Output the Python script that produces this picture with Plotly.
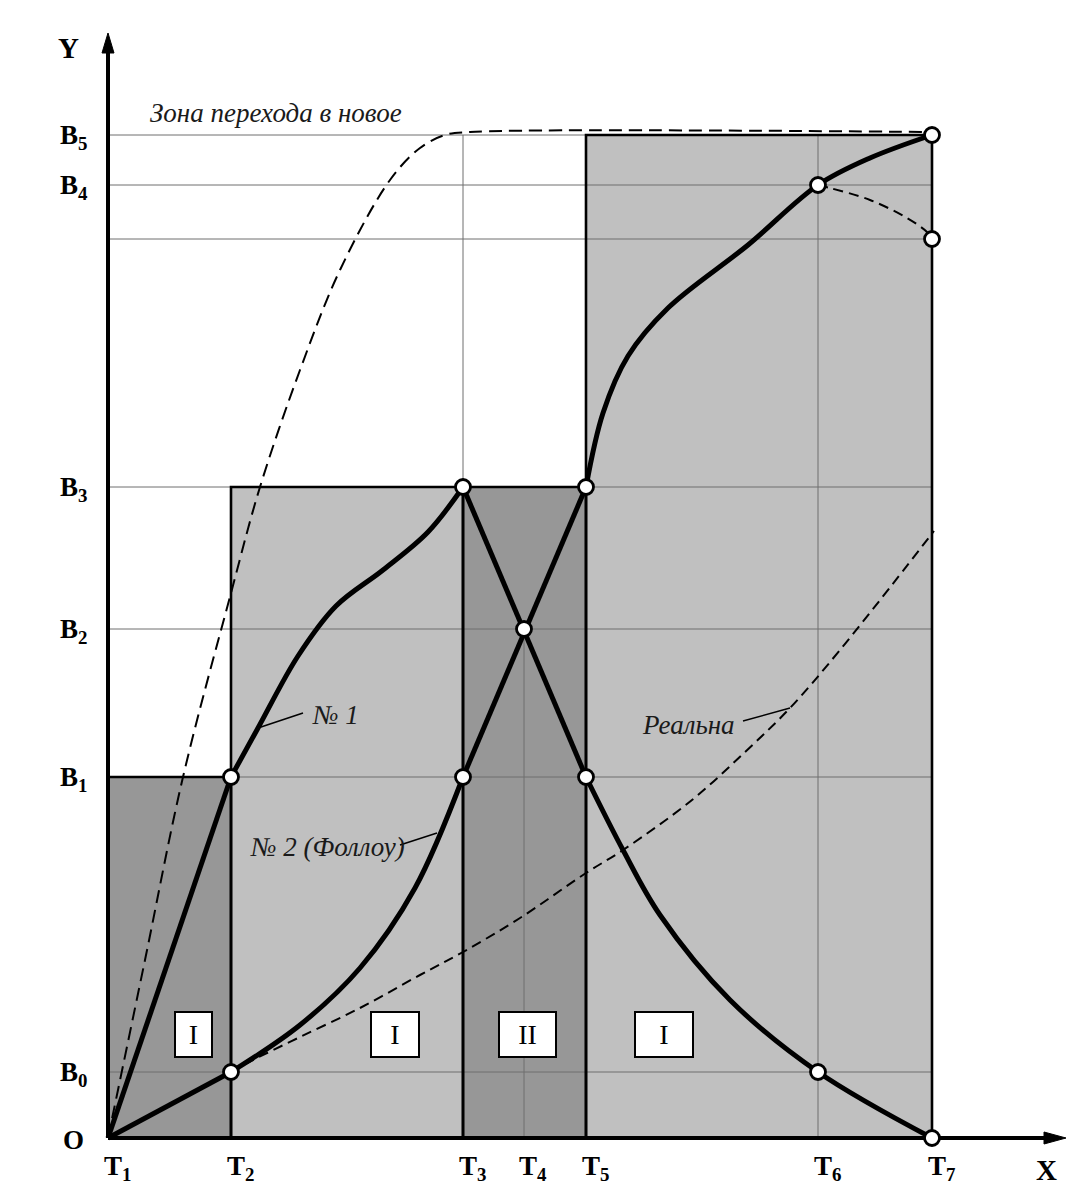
import plotly.graph_objects as go

# tick positions along the axes (chart units)
t_labels = ['T<sub>1</sub>', 'T<sub>2</sub>', 'T<sub>3</sub>', 'T<sub>4</sub>',
            'T<sub>5</sub>', 'T<sub>6</sub>', 'T<sub>7</sub>']
t_pos = [0, 123, 355, 416, 478, 710, 824]
b_labels = ['B<sub>0</sub>', 'B<sub>1</sub>', 'B<sub>2</sub>', 'B<sub>3</sub>',
            'B<sub>4</sub>', 'B<sub>5</sub>']
b_pos = [66, 361, 509, 651, 953, 1003]
b_extra = 899  # unlabeled level where the falling dashed branch ends

T1, T2, T3, T4, T5, T6, T7 = t_pos
B0, B1, B2, B3, B4, B5 = b_pos

# curve No1: growth part and decline part
c1_rise_x = [123, 150, 190, 228, 275, 320, 355]
c1_rise_y = [361, 410, 482, 532, 568, 606, 651]
c1_fall_x = [478, 515, 552, 622, 710, 824]
c1_fall_y = [361, 288, 223, 138, 66, 0]

# curve No2 (Follow)
c2_low_x = [123, 192, 252, 307, 355]
c2_low_y = [66, 113, 170, 250, 361]
c2_high_x = [478, 495, 520, 560, 640, 710, 762, 824]
c2_high_y = [651, 725, 782, 830, 893, 953, 980, 1003]

# dashed: transition zone, real curve, falling branch
zone_x = [0, 37, 75, 123, 152, 192, 232, 282, 312, 337, 362, 824]
zone_y = [0, 178, 361, 545, 651, 768, 868, 958, 990, 1003, 1006, 1006]
real_x = [123, 145, 192, 252, 312, 355, 412, 478, 515, 584, 637, 682, 732, 826]
real_y = [66, 78, 101, 130, 163, 186, 220, 265, 288, 338, 386, 430, 488, 607]
drop_x = [710, 722, 762, 799, 819, 824]
drop_y = [953, 950, 938, 920, 906, 899]

# circle nodes
node_x = [T2, T2, T3, T3, T4, T5, T5, T6, T6, T7, T7, T7]
node_y = [B1, B0, B3, B1, B2, B3, B1, B4, B0, B5, b_extra, 0]

# zone boxes
zone_text = ['I', 'I', 'II', 'I']
zone_cx = [85, 287, 419, 556]
zone_w = [39, 50, 59, 60]

DARK = '#979797'
LIGHT = '#c0c0c0'
SERIF = 'Liberation Serif'

fig = go.Figure()

regions = [(T1, T2, B1, DARK), (T2, T3, B3, LIGHT), (T3, T5, B3, DARK), (T5, T7, B5, LIGHT)]
for x0, x1, top, col in regions:
    fig.add_shape(type='rect', x0=x0, x1=x1, y0=0, y1=top, fillcolor=col,
                  line=dict(width=0), layer='below')

# thin grid
gx, gy = [], []
for lv in b_pos + [b_extra]:
    gx += [0, T7, None]
    gy += [lv, lv, None]
for xv, top in [(T3, B5), (T4, B2), (T6, B5)]:
    gx += [xv, xv, None]
    gy += [0, top, None]
fig.add_trace(go.Scatter(x=gx, y=gy, mode='lines', line=dict(color='#6e6e6e', width=1)))

# region outlines
ox, oy = [], []
for x0, x1, top, _ in regions:
    ox += [x0, x0, x1, x1, None]
    oy += [0, top, top, 0, None]
fig.add_trace(go.Scatter(x=ox, y=oy, mode='lines', line=dict(color='black', width=2.6)))

# axes
fig.add_trace(go.Scatter(x=[0, 0, None, 0, 940], y=[1090, 0, None, 0, 0], mode='lines',
                         line=dict(color='black', width=4)))
fig.add_trace(go.Scatter(x=[-6, 0, 6, -6], y=[1085, 1105, 1085, 1085], mode='lines',
                         fill='toself', fillcolor='black', line=dict(color='black', width=1)))
fig.add_trace(go.Scatter(x=[936, 958, 936, 936], y=[-6, 0, 6, -6], mode='lines',
                         fill='toself', fillcolor='black', line=dict(color='black', width=1)))

fig.add_trace(go.Scatter(x=zone_x, y=zone_y, mode='lines',
                         line=dict(shape='spline', color='black', width=2, dash='13px,7px')))
fig.add_trace(go.Scatter(x=real_x, y=real_y, mode='lines',
                         line=dict(shape='spline', color='black', width=2, dash='10px,6px')))
fig.add_trace(go.Scatter(x=drop_x, y=drop_y, mode='lines',
                         line=dict(shape='spline', color='black', width=2, dash='10px,6px')))

thick = dict(color='black', width=5)
fig.add_trace(go.Scatter(x=[0, T2, None, 0, T2], y=[0, B1, None, 0, B0], mode='lines', line=thick))
fig.add_trace(go.Scatter(x=[T3, T5, None, T3, T5], y=[B3, B1, None, B1, B3], mode='lines', line=thick))
for cx, cy in [(c1_rise_x, c1_rise_y), (c1_fall_x, c1_fall_y),
               (c2_low_x, c2_low_y), (c2_high_x, c2_high_y)]:
    fig.add_trace(go.Scatter(x=cx, y=cy, mode='lines', line=dict(shape='spline', **thick)))

# leader lines
fig.add_trace(go.Scatter(x=[150, 195, None, 292, 329, None, 635, 682],
                         y=[410, 425, None, 293, 305, None, 417, 430],
                         mode='lines', line=dict(color='black', width=1.5)))

fig.add_trace(go.Scatter(x=node_x, y=node_y, mode='markers',
                         marker=dict(size=15, color='white', line=dict(color='black', width=2.8))))

bold = dict(family=SERIF, size=27, color='black')
for lab, xv in zip(t_labels, t_pos):
    fig.add_annotation(x=xv + 9, y=-30, text='<b>' + lab + '</b>', showarrow=False, font=bold)
for lab, yv in zip(b_labels, b_pos):
    fig.add_annotation(x=-50, y=yv - 2, text='<b>' + lab + '</b>', showarrow=False,
                       xanchor='left', font=bold)
big = dict(family=SERIF, size=29, color='black')
fig.add_annotation(x=-35, y=-2, text='<b>O</b>', showarrow=False, font=bold)
fig.add_annotation(x=-40, y=1090, text='<b>Y</b>', showarrow=False, font=big)
fig.add_annotation(x=938, y=-32, text='<b>X</b>', showarrow=False, font=big)

ital = dict(family=SERIF, size=27, color='#1a1a1a')
for txt, xv, yv in [('Зона перехода в новое', 40, 1025), ('№ 1', 202, 423),
                    ('№ 2 (Фоллоу)', 140, 291), ('Реальна', 532, 413)]:
    fig.add_annotation(x=xv, y=yv, text='<i>' + txt + '</i>', showarrow=False,
                       xanchor='left', font=ital)

for txt, cx, w in zip(zone_text, zone_cx, zone_w):
    fig.add_annotation(x=cx, y=104, text=txt, showarrow=False, width=w - 4, height=43,
                       bgcolor='white', bordercolor='black', borderwidth=2, borderpad=0,
                       font=dict(family=SERIF, size=28, color='black'))

# page body adds an 8px offset, so the ranges are shifted to keep the origin in place
fig.update_layout(
    width=1076, height=1200, autosize=False,
    margin=dict(l=0, r=0, t=0, b=0, pad=0),
    paper_bgcolor='white', plot_bgcolor='white',
    showlegend=False, hovermode=False,
    xaxis=dict(range=[-100, 976], visible=False, fixedrange=True),
    yaxis=dict(range=[-70, 1130], visible=False, fixedrange=True),
)

fig.write_html("out.html")
